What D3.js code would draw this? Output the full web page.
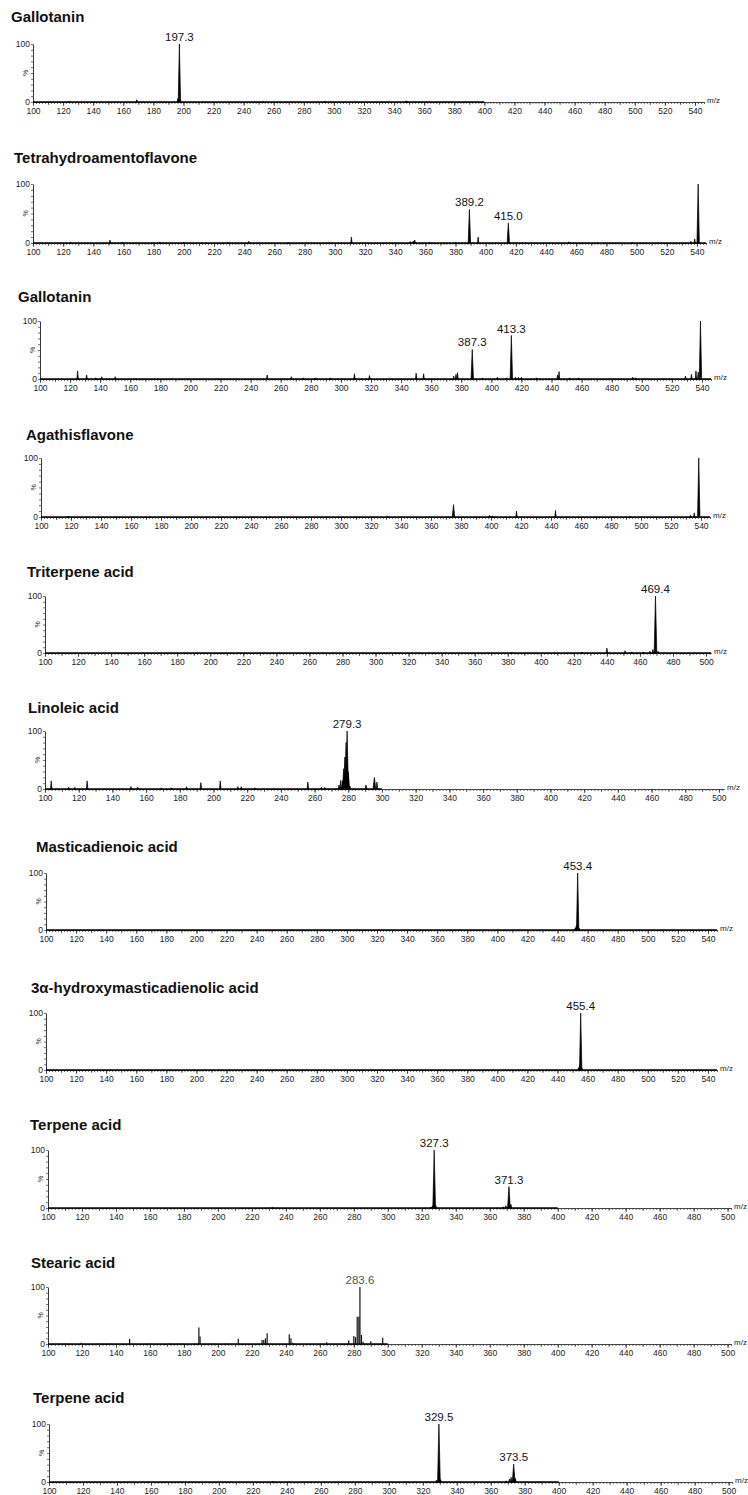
<!DOCTYPE html>
<html>
<head>
<meta charset="utf-8">
<script src="https://cdn.jsdelivr.net/npm/d3@7"></script>
<style>
  body { margin: 0; background: #fff; }
  svg { display: block; font-family: Arial, "Liberation Sans", sans-serif; }
</style>
</head>
<body>
<svg id="chart" width="748" height="1495"></svg>
<script>
// compound name above each spectrum
const titles = ['Gallotanin', 'Tetrahydroamentoflavone', 'Gallotanin', 'Agathisflavone', 'Triterpene acid',
    'Linoleic acid', 'Masticadienoic acid', '3α-hydroxymasticadienolic acid', 'Terpene acid', 'Stearic acid', 'Terpene acid']

// upper end of each m/z axis
const xMax = [546, 546, 546, 546, 503, 503, 546, 546, 502, 502, 502]

// m/z span covered by the recorded trace
const traceRange = [[100, 400], [100, 546], [100, 546], [100, 546], [100, 503], [100, 300],
    [100, 546], [100, 546], [100, 400], [100, 300], [100, 400]]

// peaks as [m/z, relative intensity %]
const peaksGallotanin1 = [[124, 1.5], [169, 4], [196.3, 6], [197.3, 100], [198.3, 2], [253, 1], [294, 1.2], [348, 2], [349, 1]]
const peaksTetrahydro = [[125, 1.5], [151, 5], [159, 1.5], [184, 1.5], [200, 1.5], [229, 1.5], [243, 3], [269, 1],
    [311, 10], [350, 2.5], [352, 3.5], [353, 5], [363, 1.5], [380, 1.5], [389.2, 57], [395, 10], [415, 34],
    [455, 2], [497, 1.5], [536, 3], [538.5, 7], [540.8, 100]]
const peaksGallotanin2 = [[125, 14], [131, 7], [137, 2], [141, 4], [150, 4], [251, 7], [267, 4], [275, 2], [283, 2],
    [293, 2], [309, 9], [319, 6], [350, 10], [355, 9], [375, 5], [376.5, 8], [377.5, 11], [387.3, 51], [394, 2],
    [404, 3], [410, 2], [413.3, 75], [416, 3], [418, 3], [420, 3], [430, 2], [444, 7], [445, 13], [452, 2], [458, 2],
    [494, 3], [496, 2], [529, 5], [533, 8], [536, 14], [537.5, 12], [539, 100]]
const peaksAgathis = [[118, 1.5], [331, 1], [375, 21], [399, 3], [401, 2], [417, 10], [443, 11], [493, 1],
    [533, 3], [535.5, 7], [538.5, 100]]
const peaksTriterpene = [[382, 1], [425, 1.5], [440, 8.5], [451, 4], [455, 2], [462, 1.5], [466, 3], [467.8, 6], [469.4, 100], [471, 3]]
const peaksLinoleic = [[103.7, 14], [114, 3], [117.7, 3], [125, 14], [151, 4], [155, 3], [169, 2], [175, 2], [184, 4],
    [192.5, 11], [204, 14], [214.5, 4], [216.5, 4], [224.5, 2], [256, 12], [264, 3], [266, 3], [274.5, 7], [275.5, 15],
    [276.5, 14], [277.3, 35], [278, 55], [278.7, 80], [279.3, 100], [280, 30], [281, 5], [290.5, 7], [295.5, 20],
    [297, 12]]
const peaksMasticadienoic = [[451.8, 4], [452.5, 8], [453.4, 100], [454.4, 3]]
const peaksHydroxy = [[454, 4], [454.6, 8], [455.4, 100], [456.3, 3]]
const peaksTerpene1 = [[232, 1], [325.5, 2], [326.5, 4], [327.3, 100], [328.3, 4], [368, 2], [369.5, 4], [371.3, 37], [372.5, 6]]
const peaksStearic = [[108, 1], [110, 1], [119.5, 2], [131, 1], [137, 1], [148, 9], [160, 1], [171, 1], [178, 1],
    [188.8, 29], [189.5, 13], [196, 1], [205, 1], [212, 9], [226, 7], [227, 7], [228, 10], [229, 19], [242, 17],
    [243, 10], [244, 2], [264, 3], [277, 6], [280, 14], [281, 12], [282, 48], [283, 48], [283.6, 100], [284.5, 16],
    [285.5, 4], [290, 5], [297, 11]]
const peaksTerpene2 = [[232, 1], [328, 3], [329.5, 100], [330.5, 4], [369, 2], [371, 5], [372, 8], [373.5, 31], [374.5, 6]]

const panelPeaks = [peaksGallotanin1, peaksTetrahydro, peaksGallotanin2, peaksAgathis, peaksTriterpene,
    peaksLinoleic, peaksMasticadienoic, peaksHydroxy, peaksTerpene1, peaksStearic, peaksTerpene2]

// annotated peaks as [m/z, intensity, label]
const panelLabels = [
    [[197.3, 100, '197.3']],
    [[389.2, 57, '389.2'], [415.0, 34, '415.0']],
    [[387.3, 51, '387.3'], [413.3, 75, '413.3']],
    [],
    [[469.4, 100, '469.4']],
    [[279.3, 100, '279.3']],
    [[453.4, 100, '453.4']],
    [[455.4, 100, '455.4']],
    [[327.3, 100, '327.3'], [371.3, 37, '371.3']],
    [[283.6, 100, '283.6']],
    [[329.5, 100, '329.5'], [373.5, 31, '373.5']]
]

// stearic acid is drawn as centroid sticks, the others as profile peaks
const sticks = [false, false, false, false, false, false, false, false, false, true, false]

// pixel frame of each panel
const layout = [
    { titleX: 11, titleY: 22, top: 44, bottom: 102, left: 33, right: 704 },
    { titleX: 14, titleY: 163, top: 184, bottom: 243, left: 33, right: 706 },
    { titleX: 18, titleY: 302, top: 321, bottom: 379, left: 40, right: 711 },
    { titleX: 26, titleY: 440, top: 458, bottom: 517, left: 41, right: 710 },
    { titleX: 27, titleY: 577, top: 596, bottom: 653, left: 45, right: 711 },
    { titleX: 28, titleY: 713, top: 731, bottom: 789, left: 45, right: 724 },
    { titleX: 36, titleY: 852, top: 873, bottom: 930, left: 46, right: 717 },
    { titleX: 31, titleY: 993, top: 1013, bottom: 1070, left: 46, right: 717 },
    { titleX: 30, titleY: 1130, top: 1150, bottom: 1208, left: 48, right: 731 },
    { titleX: 31, titleY: 1268, top: 1287, bottom: 1344, left: 48, right: 731 },
    { titleX: 33, titleY: 1403, top: 1424, bottom: 1482, left: 49, right: 732 }
]

const svg = d3.select('#chart')

layout.forEach((L, i) => {
    const g = svg.append('g').attr('class', 'panel')

    const x = d3.scaleLinear().domain([100, xMax[i]]).range([L.left, L.right])
    const y = d3.scaleLinear().domain([0, 100]).range([L.bottom, L.top])

    g.append('text')
        .attr('x', L.titleX)
        .attr('y', L.titleY)
        .attr('font-size', 15)
        .attr('font-weight', 'bold')
        .attr('fill', '#111')
        .text(titles[i])

    // x axis, three tick levels
    const tickLevels = [
        { step: 2, size: 2, label: false },
        { step: 10, size: 3, label: false },
        { step: 20, size: 4, label: true }
    ]
    tickLevels.forEach(lv => {
        const vals = d3.range(100, xMax[i] + 0.01, lv.step)
        const ax = g.append('g')
            .attr('transform', 'translate(0,' + L.bottom + ')')
            .call(d3.axisBottom(x)
                .tickValues(vals)
                .tickSize(lv.size)
                .tickSizeOuter(0)
                .tickPadding(1.5)
                .tickFormat(lv.label ? d3.format('d') : ''))
        ax.select('.domain').attr('stroke', '#444').attr('stroke-width', 0.8)
        ax.selectAll('line').attr('stroke', '#333').attr('stroke-width', 0.7)
        ax.selectAll('text')
            .attr('font-size', 8.5)
            .attr('font-family', 'Arial, "Liberation Sans", sans-serif')
            .attr('fill', '#222')
    })

    // y axis
    const ay = g.append('g')
        .attr('transform', 'translate(' + L.left + ',0)')
        .call(d3.axisLeft(y)
            .tickValues(d3.range(0, 101, 10))
            .tickSize(2)
            .tickSizeOuter(0)
            .tickPadding(1)
            .tickFormat(d => (d == 0 || d == 100) ? d : ''))
    ay.select('.domain').attr('stroke', '#222').attr('stroke-width', 0.9)
    ay.selectAll('line').attr('stroke', '#333').attr('stroke-width', 0.7)
    ay.selectAll('text')
        .attr('font-size', 8.5)
        .attr('font-family', 'Arial, "Liberation Sans", sans-serif')
        .attr('fill', '#222')

    g.append('text')
        .attr('transform', 'translate(' + (L.left - 5) + ',' + y(50) + ') rotate(-90)')
        .attr('text-anchor', 'middle')
        .attr('font-size', 7)
        .attr('fill', '#333')
        .text('%')

    g.append('text')
        .attr('x', L.right + 3)
        .attr('y', L.bottom + 1)
        .attr('font-size', 8)
        .attr('fill', '#222')
        .text('m/z')

    // recorded baseline
    g.append('line')
        .attr('x1', x(traceRange[i][0]))
        .attr('x2', x(traceRange[i][1]))
        .attr('y1', y(0))
        .attr('y2', y(0))
        .attr('stroke', '#000')
        .attr('stroke-width', 1.4)

    // peaks
    const peaks = panelPeaks[i]
    if (sticks[i]) {
        g.selectAll('line.peak')
            .data(peaks)
            .join('line')
            .attr('class', 'peak')
            .attr('x1', d => x(d[0]))
            .attr('x2', d => x(d[0]))
            .attr('y1', y(0))
            .attr('y2', d => y(d[1]))
            .attr('stroke', '#111')
            .attr('stroke-width', 1.2)
    }
    else {
        g.selectAll('path.peak')
            .data(peaks)
            .join('path')
            .attr('class', 'peak')
            .attr('d', d => {
                let w = d[1] >= 20 ? 0.8 : 0.45
                return 'M' + x(d[0] - w) + ',' + y(0) +
                    'L' + x(d[0]) + ',' + y(d[1]) +
                    'L' + x(d[0] + w) + ',' + y(0) + 'Z'
            })
            .attr('fill', '#000')
            .attr('stroke', '#000')
            .attr('stroke-width', 0.7)
            .attr('stroke-linejoin', 'round')
    }

    // peak annotations
    g.selectAll('text.peak-label')
        .data(panelLabels[i])
        .join('text')
        .attr('class', 'peak-label')
        .attr('x', d => x(d[0]))
        .attr('y', d => y(d[1]) - 3)
        .attr('text-anchor', 'middle')
        .attr('font-size', 11.5)
        .attr('fill', sticks[i] ? '#555' : '#111')
        .text(d => d[2])
})
</script>
</body>
</html>
